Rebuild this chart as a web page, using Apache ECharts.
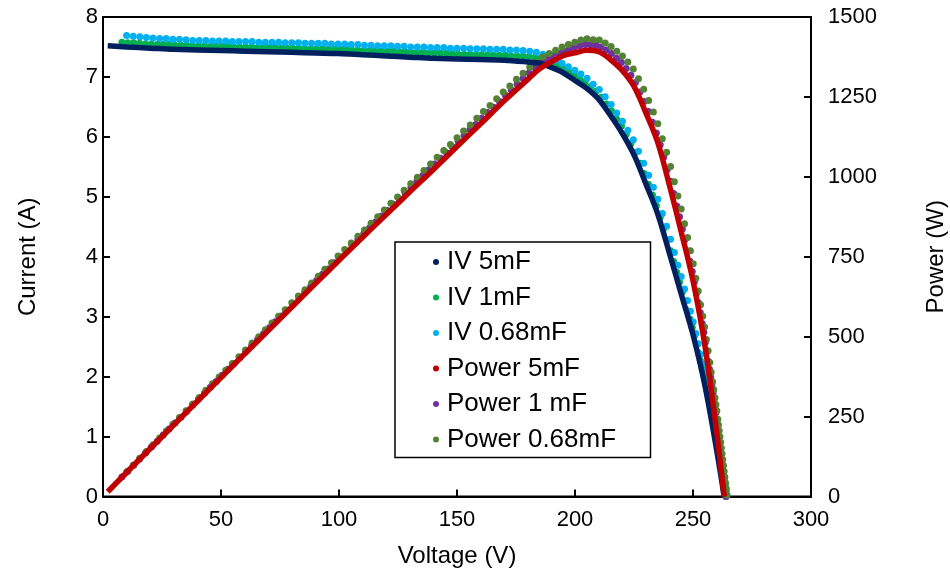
<!DOCTYPE html>
<html>
<head>
<meta charset="utf-8">
<script src="https://cdn.jsdelivr.net/npm/echarts@6/dist/echarts.min.js"></script>
<style>
html,body{margin:0;padding:0;background:#fff;}
#chart{width:950px;height:577px;}
</style>
</head>
<body>
<div id="chart"></div>
<script>
// ---------- data ----------
const seriesNames = ['IV 5mF', 'IV 1mF', 'IV 0.68mF', 'Power 5mF', 'Power 1 mF', 'Power 0.68mF'];

// 5 mF capacitor sweep
const v5 = [2,10,20,30,40,50,60,70,80,90,100,110,120,130,140,150,160,170,180,185,190,195,200,205,210,215,220,225,230,235,240,245,250,255,260,263.2];
const i5 = [7.52,7.50,7.48,7.46,7.45,7.44,7.43,7.42,7.41,7.40,7.39,7.37,7.35,7.33,7.31,7.30,7.29,7.28,7.25,7.23,7.16,7.07,6.94,6.81,6.63,6.36,6.06,5.70,5.22,4.72,4.06,3.38,2.70,1.86,0.78,0];
const p5 = [15,75,150,224,298,372,446,519,593,666,739,811,882,953,1023,1095,1166,1238,1305,1338,1360,1379,1388,1396,1392,1367,1333,1283,1201,1109,974,828,675,474,203,0];

// 1 mF capacitor sweep
const v1 = [8.0,10.5,13.0,15.5,18.0,20.5,23.0,25.5,28.0,30.5,33.0,35.5,38.0,40.5,43.0,45.5,48.0,50.5,53.0,55.5,58.0,60.5,63.0,65.5,68.0,70.5,73.0,75.5,78.0,80.5,83.0,85.5,88.0,90.5,93.0,95.5,98.0,100.5,103.0,105.5,108.0,110.5,113.0,115.5,118.0,120.5,123.0,125.5,128.0,130.5,133.0,135.5,138.0,140.5,143.0,145.5,148.0,150.5,153.0,155.5,158.0,160.5,163.0,165.5,168.0,170.5,173.0,175.5,178.0,180.5,183.0,
  185.4,187.8,190.2,192.6,195.0,197.4,199.7,202.0,204.3,206.6,208.9,211.1,213.3,215.5,217.6,219.7,221.7,223.7,225.6,227.5,229.3,231.1,232.8,234.5,236.1,237.6,239.1,240.5,241.8,243.1,244.3,245.5,246.6,247.7,248.7,249.7,250.6,251.5,252.3,253.1,253.9,254.6,255.3,255.9,256.5,257.0,257.5,258.0,258.5,258.9,259.3,259.7,260.1,260.4,260.7,261.0,261.3,261.6,261.9,262.2,262.5,262.8,263.1,263.4,263.7,264.0];
const i1 = [7.58,7.57,7.57,7.56,7.55,7.55,7.54,7.54,7.54,7.53,7.53,7.53,7.52,7.52,7.52,7.51,7.51,7.51,7.51,7.50,7.50,7.50,7.50,7.49,7.49,7.49,7.49,7.48,7.48,7.48,7.48,7.47,7.47,7.47,7.47,7.46,7.46,7.46,7.46,7.45,7.45,7.44,7.44,7.44,7.43,7.43,7.43,7.42,7.42,7.41,7.41,7.41,7.40,7.40,7.40,7.39,7.39,7.38,7.38,7.38,7.37,7.37,7.37,7.36,7.36,7.36,7.35,7.35,7.35,7.34,7.33,
  7.31,7.28,7.25,7.20,7.15,7.09,7.04,6.98,6.92,6.84,6.76,6.66,6.55,6.43,6.30,6.18,6.04,5.89,5.74,5.56,5.39,5.21,5.03,4.85,4.66,4.47,4.28,4.10,3.92,3.74,3.58,3.41,3.26,3.10,2.96,2.82,2.68,2.53,2.40,2.27,2.13,2.02,1.89,1.77,1.65,1.55,1.45,1.35,1.25,1.17,1.09,1.01,0.93,0.86,0.79,0.71,0.64,0.57,0.50,0.43,0.36,0.29,0.21,0.14,0.07,0.00];
const p1 = [61,79,98,117,136,155,173,192,211,230,248,267,286,305,323,342,360,379,398,416,435,454,472,491,509,528,547,565,583,602,621,639,657,676,695,712,731,750,768,786,805,822,841,859,877,895,914,931,950,967,986,1004,1021,1040,1058,1075,1094,1111,1129,1148,1164,1183,1201,1218,1236,1255,1272,1290,1308,1325,1341,
  1355,1367,1379,1387,1394,1400,1406,1410,1414,1413,1412,1406,1397,1386,1371,1358,1339,1318,1295,1265,1236,1204,1171,1137,1100,1062,1023,986,948,909,875,837,804,768,736,704,672,636,606,575,541,514,483,453,423,398,373,348,323,303,283,262,242,224,206,185,167,149,131,113,95,76,55,37,18,0];

// 0.68 mF capacitor sweep
const v068 = [10.0,12.8,15.6,18.4,21.2,24.0,26.8,29.6,32.4,35.2,38.0,40.8,43.6,46.4,49.2,52.0,54.8,57.6,60.4,63.2,66.0,68.8,71.6,74.4,77.2,80.0,82.8,85.6,88.4,91.2,94.0,96.8,99.6,102.4,105.2,108.0,110.8,113.6,116.4,119.2,122.0,124.8,127.6,130.4,133.2,136.0,138.8,141.6,144.4,147.2,150.0,152.8,155.6,158.4,161.2,164.0,166.8,169.6,172.4,175.2,178.0,180.8,183.6,
  186.4,189.1,191.8,194.5,197.2,199.9,202.5,205.1,207.7,210.3,212.8,215.3,217.7,220.1,222.4,224.7,226.9,229.1,231.2,233.2,235.1,237.0,238.8,240.5,242.1,243.6,245.0,246.4,247.7,248.9,250.1,251.2,252.2,253.2,254.1,254.9,255.7,256.4,257.1,257.7,258.3,258.8,259.3,259.7,260.1,260.5,260.8,261.1,261.4,261.7,262.0,262.3,262.6,262.9,263.2,263.5,263.8,264.1,264.4];
const i068 = [7.69,7.68,7.67,7.66,7.65,7.64,7.64,7.63,7.63,7.62,7.61,7.61,7.61,7.60,7.60,7.60,7.59,7.59,7.59,7.59,7.58,7.58,7.58,7.58,7.57,7.57,7.57,7.56,7.56,7.56,7.56,7.55,7.55,7.55,7.54,7.54,7.53,7.53,7.52,7.52,7.52,7.51,7.51,7.50,7.50,7.50,7.49,7.49,7.49,7.48,7.48,7.48,7.47,7.47,7.47,7.46,7.46,7.46,7.45,7.45,7.44,7.43,7.41,
  7.38,7.33,7.28,7.23,7.17,7.11,7.05,6.98,6.88,6.79,6.67,6.54,6.40,6.26,6.11,5.95,5.76,5.56,5.36,5.16,4.96,4.72,4.51,4.29,4.07,3.86,3.67,3.46,3.27,3.09,2.91,2.72,2.55,2.37,2.22,2.08,1.92,1.78,1.63,1.51,1.39,1.29,1.19,1.11,1.03,0.93,0.86,0.79,0.72,0.65,0.58,0.51,0.44,0.37,0.30,0.23,0.16,0.09,0.02];
const p068 = [77,98,120,141,162,183,205,226,247,268,289,310,332,353,374,395,416,437,458,480,500,522,543,564,584,606,627,647,668,689,711,731,752,773,793,814,834,855,875,896,917,937,958,978,999,1020,1040,1061,1082,1101,1122,1143,1162,1183,1204,1223,1244,1265,1284,1305,1324,1343,1360,
  1376,1386,1396,1406,1414,1421,1428,1432,1429,1428,1419,1408,1393,1378,1359,1337,1307,1274,1239,1203,1166,1119,1077,1032,985,940,899,853,810,769,728,683,643,600,564,530,491,456,419,389,359,334,309,288,268,242,224,206,188,170,152,134,116,97,79,61,42,24,5];

// axis ranges
const xRange = [0, 300, 50];
const yLeftRange = [0, 8, 1];
const yRightRange = [0, 1500, 250];

const colors = ['#002060', '#00B050', '#00B0F0', '#C00000', '#7030A0', '#548235'];

// ---------- chart ----------
const pair = (xs, ys) => xs.map((x, k) => [x, ys[k]]);
const FONT = "'Liberation Sans', Arial, sans-serif";

const axisLine = { show: true, onZero: false, lineStyle: { color: '#000', width: 2 } };
const axisTick = { show: true, inside: true, length: 7, lineStyle: { color: '#000', width: 2 } };

function lineSeries(name, data, color, yIdx) {
  return {
    name, type: 'line', data, yAxisIndex: yIdx, smooth: 0.35,
    showSymbol: false, symbol: 'circle',
    lineStyle: { color, width: 5.5 }, itemStyle: { color },
    silent: true, animation: false
  };
}
function dotSeries(name, data, color, yIdx) {
  return {
    name, type: 'scatter', data, yAxisIndex: yIdx, symbol: 'circle', symbolSize: 7,
    itemStyle: { color, opacity: 1 }, silent: true, animation: false
  };
}

const chart = echarts.init(document.getElementById('chart'), null, { renderer: 'canvas' });
chart.setOption({
  animation: false,
  backgroundColor: '#fff',
  textStyle: { fontFamily: FONT },
  grid: { left: 103, right: 139, top: 17, bottom: 80.5, outerBoundsMode: 'none', containLabel: false,
          show: true, borderColor: '#000', borderWidth: 2 },
  graphic: [{
    type: 'rect', z: 3,
    shape: { x: 395, y: 242, width: 255.5, height: 215.5 },
    style: { fill: '#fff', stroke: '#000', lineWidth: 1.5 }
  }],
  legend: {
    orient: 'vertical', left: 433, top: 249, padding: 0, itemGap: 9.5,
    itemWidth: 12, itemHeight: 6, z: 10,
    data: seriesNames.map(n => ({ name: n, icon: 'circle' })),
    textStyle: { fontSize: 26, color: '#000', fontFamily: FONT }
  },
  xAxis: {
    type: 'value', min: xRange[0], max: xRange[1], interval: xRange[2],
    name: 'Voltage (V)', nameLocation: 'middle', nameGap: 48,
    nameTextStyle: { fontSize: 24, color: '#000', fontFamily: FONT },
    axisLine, axisTick, splitLine: { show: false },
    axisLabel: { fontSize: 22, color: '#000', margin: 12, fontFamily: FONT, formatter: v => String(v) }
  },
  yAxis: [{
    type: 'value', position: 'left', min: yLeftRange[0], max: yLeftRange[1], interval: yLeftRange[2],
    name: 'Current (A)', nameLocation: 'middle', nameGap: 63, nameRotate: 90,
    nameTextStyle: { fontSize: 24, color: '#000', fontFamily: FONT },
    axisLine, axisTick, splitLine: { show: false },
    axisLabel: { fontSize: 22, color: '#000', margin: 5, fontFamily: FONT, formatter: v => String(v) }
  }, {
    type: 'value', position: 'right', min: yRightRange[0], max: yRightRange[1], interval: yRightRange[2],
    name: 'Power (W)', nameLocation: 'middle', nameGap: 113, nameRotate: 90,
    nameTextStyle: { fontSize: 24, color: '#000', fontFamily: FONT },
    axisLine, axisTick, splitLine: { show: false },
    axisLabel: { fontSize: 22, color: '#000', margin: 17, fontFamily: FONT, formatter: v => String(v) }
  }],
  series: [
    lineSeries(seriesNames[0], pair(v5, i5), colors[0], 0),
    dotSeries(seriesNames[1], pair(v1, i1), colors[1], 0),
    dotSeries(seriesNames[2], pair(v068, i068), colors[2], 0),
    lineSeries(seriesNames[3], pair(v5, p5), colors[3], 1),
    dotSeries(seriesNames[4], pair(v1, p1), colors[4], 1),
    dotSeries(seriesNames[5], pair(v068, p068), colors[5], 1)
  ]
});
</script>
</body>
</html>
